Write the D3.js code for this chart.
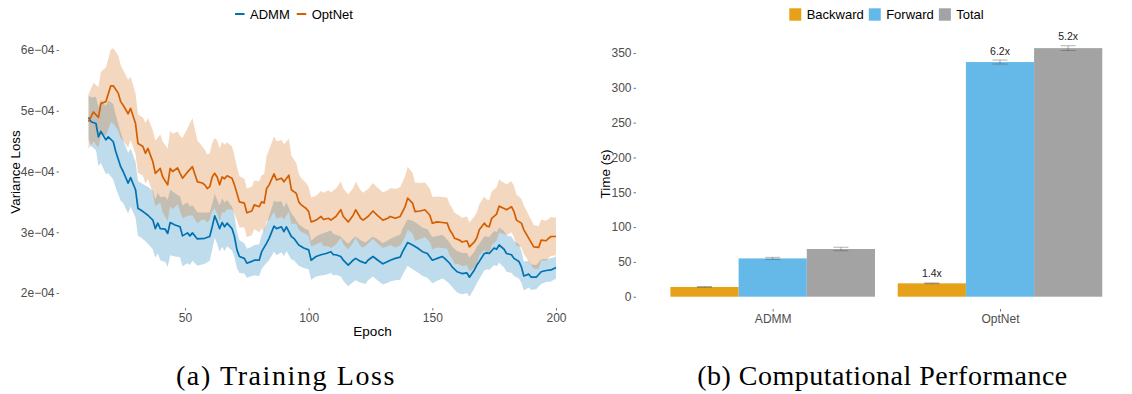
<!DOCTYPE html>
<html lang="en">
  <head>
    <meta charset="utf-8">
    <title>Training loss and computational performance</title>
    <script src="https://d3js.org/d3.v7.min.js"></script>
    <style>
      body { margin: 0; background: #fff; }
    </style>
  </head>
  <body>
    <script>

  // ---- panel (a) data: variance loss, in units of 1e-4 ----
  var admmEpoch = [11,12,14,15,16,18,19,21,22,24,25,27,28,30,31,32,34,35,37,38,39,40,42,43,44,46,48,49,51,52,53,55,58,60,61,62,63,64,65,66,67,69,70,71,72,74,75,77,78,80,81,83,84,86,87,89,90,91,93,94,96,98,100,101,103,105,107,109,110,111,113,114,116,118,119,121,123,124,126,128,130,132,133,135,137,138,140,142,144,146,148,150,152,154,155,157,158,160,162,164,165,167,168,169,171,172,173,175,176,177,179,180,182,183,185,186,187,189,190,192,194,196,198,200];
  var admmMean = [4.89,4.82,4.79,4.57,4.66,4.52,4.57,4.49,4.33,4.08,4.00,3.81,3.90,3.70,3.39,3.37,3.31,3.28,3.20,3.06,3.15,3.06,3.05,2.98,3.16,3.12,3.09,2.94,2.99,2.94,2.99,2.89,2.90,2.93,3.09,3.27,3.17,3.06,3.16,3.09,3.15,3.06,2.93,2.71,2.60,2.57,2.49,2.52,2.54,2.54,2.68,2.82,2.90,3.10,3.06,3.09,3.01,3.09,2.93,2.90,2.79,2.74,2.71,2.54,2.60,2.63,2.65,2.68,2.63,2.63,2.60,2.54,2.46,2.54,2.57,2.52,2.49,2.54,2.60,2.54,2.48,2.52,2.54,2.57,2.59,2.68,2.83,2.79,2.74,2.68,2.65,2.54,2.57,2.60,2.57,2.49,2.43,2.35,2.32,2.33,2.26,2.38,2.46,2.52,2.65,2.66,2.65,2.74,2.72,2.79,2.72,2.65,2.63,2.57,2.52,2.43,2.28,2.31,2.26,2.26,2.35,2.37,2.38,2.42];
  var admmSd = [0.36,0.40,0.44,0.48,0.52,0.56,0.60,0.62,0.60,0.56,0.52,0.50,0.48,0.46,0.45,0.45,0.46,0.47,0.48,0.48,0.50,0.52,0.54,0.55,0.54,0.52,0.50,0.50,0.50,0.48,0.46,0.44,0.42,0.40,0.38,0.36,0.36,0.38,0.40,0.40,0.38,0.36,0.34,0.30,0.27,0.25,0.24,0.24,0.25,0.26,0.28,0.32,0.36,0.42,0.44,0.42,0.40,0.40,0.38,0.36,0.34,0.33,0.32,0.32,0.33,0.34,0.35,0.35,0.34,0.33,0.33,0.34,0.35,0.36,0.36,0.35,0.34,0.33,0.33,0.34,0.34,0.35,0.35,0.36,0.37,0.38,0.38,0.40,0.40,0.40,0.40,0.38,0.37,0.36,0.35,0.34,0.33,0.34,0.34,0.33,0.32,0.30,0.30,0.29,0.28,0.27,0.27,0.28,0.28,0.29,0.30,0.30,0.30,0.29,0.28,0.26,0.24,0.22,0.21,0.20,0.20,0.19,0.19,0.18];

  var optEpoch = [11,13,15,16,18,20,21,23,24,25,27,28,30,31,33,34,35,37,38,40,41,43,44,45,47,48,49,51,53,55,57,58,59,60,61,62,63,64,65,66,67,69,70,71,72,74,75,77,78,80,81,82,83,84,86,87,89,90,92,93,95,96,97,99,100,101,103,105,106,108,109,111,113,114,116,118,119,121,122,124,126,128,130,132,133,135,137,139,140,142,143,145,147,149,150,152,154,156,157,158,159,161,162,164,165,167,168,169,171,172,173,174,176,177,179,180,182,183,184,186,187,189,191,193,194,196,197,198,200];
  var optMean = [4.82,4.98,4.89,5.12,5.15,5.41,5.41,5.29,5.15,5.09,4.95,5.04,4.79,4.46,4.41,4.30,4.38,4.16,3.97,4.05,3.91,3.78,4.05,4.00,4.06,3.97,3.89,3.99,4.08,3.83,3.81,3.78,3.72,3.75,3.91,3.97,3.91,3.78,3.91,3.88,3.93,3.89,3.78,3.64,3.50,3.48,3.32,3.35,3.45,3.42,3.50,3.48,3.72,3.78,3.96,3.86,3.89,3.83,3.94,3.70,3.64,3.50,3.45,3.39,3.34,3.17,3.20,3.26,3.21,3.23,3.20,3.26,3.37,3.26,3.17,3.28,3.37,3.23,3.20,3.26,3.35,3.27,3.20,3.23,3.26,3.23,3.26,3.42,3.56,3.48,3.34,3.35,3.37,3.28,3.15,3.17,3.16,3.15,3.04,2.98,2.90,2.87,2.84,2.86,2.76,2.84,2.91,3.04,3.15,3.10,3.09,3.23,3.30,3.43,3.39,3.37,3.42,3.34,3.20,3.15,3.04,2.90,2.76,2.75,2.87,2.86,2.90,2.93,2.93];
  var optSd = [0.45,0.48,0.50,0.52,0.56,0.60,0.62,0.62,0.60,0.58,0.56,0.52,0.50,0.48,0.48,0.50,0.50,0.52,0.54,0.56,0.58,0.60,0.62,0.62,0.60,0.62,0.66,0.72,0.80,0.68,0.60,0.58,0.56,0.55,0.56,0.58,0.60,0.60,0.58,0.56,0.55,0.52,0.48,0.44,0.42,0.40,0.40,0.40,0.40,0.42,0.44,0.48,0.54,0.58,0.62,0.64,0.63,0.62,0.60,0.56,0.50,0.46,0.44,0.42,0.40,0.40,0.40,0.42,0.44,0.46,0.46,0.46,0.46,0.46,0.45,0.45,0.46,0.46,0.45,0.45,0.46,0.46,0.46,0.46,0.47,0.48,0.48,0.50,0.52,0.50,0.48,0.46,0.45,0.44,0.43,0.42,0.42,0.42,0.42,0.42,0.42,0.40,0.40,0.40,0.40,0.42,0.42,0.42,0.44,0.44,0.44,0.44,0.44,0.44,0.42,0.42,0.42,0.42,0.42,0.40,0.40,0.38,0.36,0.35,0.34,0.33,0.32,0.32,0.31];

  var lossTicksX = [50, 100, 150, 200];
  var lossTicksY = [2, 3, 4, 5, 6];
  var lossTickLabels = ["2e\u221204", "3e\u221204", "4e\u221204", "5e\u221204", "6e\u221204"];
  var lossSeries = ["ADMM", "OptNet"];

  // ---- panel (b) data: time in seconds ----
  var methods = ["ADMM", "OptNet"];
  var phases = ["Backward", "Forward", "Total"];
  var timeMean = { ADMM: [14, 55, 68.5], OptNet: [19.2, 337, 357] };
  var timeErr = { ADMM: [0.5, 1.5, 2.5], OptNet: [0.6, 2.9, 3.4] };
  var speedup = { OptNet: ["1.4x", "6.2x", "5.2x"] };
  var timeTicks = [0, 50, 100, 150, 200, 250, 300, 350];

  var captions = ["(a) Training Loss", "(b) Computational Performance"];

  var lineColors = { ADMM: "#0072B2", OptNet: "#D55E00" };
  var barColors = d3.scaleOrdinal().domain(phases).range(["#E6A118", "#64B9E8", "#A3A3A3"]);

  var svg = d3.select("body").append("svg")
    .attr("width", 1132)
    .attr("height", 394)
    .attr("font-family", "Liberation Sans, Arial, sans-serif");

  // ================= panel (a) =================
  var xLoss = d3.scaleLinear().domain([50, 200]).range([185, 556]);
  var yLoss = d3.scaleLinear().domain([2, 6]).range([293, 50]);

  var lossData = {
    ADMM: admmEpoch.map((e, i) => ({ e: e, m: admmMean[i], s: admmSd[i] })),
    OptNet: optEpoch.map((e, i) => ({ e: e, m: optMean[i], s: optSd[i] }))
  };

  var ribbon = d3.area()
    .x(d => xLoss(d.e))
    .y0(d => yLoss(d.m - d.s))
    .y1(d => yLoss(d.m + d.s));

  var line = d3.line()
    .x(d => xLoss(d.e))
    .y(d => yLoss(d.m));

  var pa = svg.append("g");

  lossSeries.forEach(function (k) {
    pa.append("path")
      .attr("d", ribbon(lossData[k]))
      .attr("fill", lineColors[k])
      .attr("fill-opacity", 0.25);
  });
  lossSeries.forEach(function (k) {
    pa.append("path")
      .attr("d", line(lossData[k]))
      .attr("fill", "none")
      .attr("stroke", lineColors[k])
      .attr("stroke-width", 1.7)
      .attr("stroke-linejoin", "round");
  });

  // axes, ggplot-like: no axis line, tiny ticks, grey labels
  var xAxisA = d3.axisBottom(xLoss).tickValues(lossTicksX).tickSize(2.5).tickPadding(3);
  var gxa = pa.append("g").attr("transform", "translate(0,308)").call(xAxisA);
  var yAxisA = d3.axisLeft(yLoss).tickValues(lossTicksY).tickSize(2.5).tickPadding(2)
    .tickFormat((d, i) => lossTickLabels[i]);
  var gya = pa.append("g").attr("transform", "translate(59,0)").call(yAxisA);

  // ================= panel (b) =================
  var xCat = d3.scalePoint().domain(methods).range([772.7, 1000]);
  var groupW = 0.9 * (xCat(methods[1]) - xCat(methods[0]));
  var xPhase = d3.scaleBand().domain(phases).range([-groupW / 2, groupW / 2]);
  var yTime = d3.scaleLinear().domain([0, 350]).range([296.7, 53]);

  var pb = svg.append("g");

  var groups = pb.selectAll("g.method")
    .data(methods)
    .enter().append("g")
    .attr("class", "method")
    .attr("transform", d => "translate(" + xCat(d) + ",0)");

  groups.each(function (m) {
    var g = d3.select(this);
    var rows = phases.map((p, i) => ({ p: p, v: timeMean[m][i], e: timeErr[m][i], lab: speedup[m] ? speedup[m][i] : null }));

    g.selectAll("rect")
      .data(rows)
      .enter().append("rect")
      .attr("x", d => xPhase(d.p))
      .attr("width", xPhase.bandwidth())
      .attr("y", d => yTime(d.v))
      .attr("height", d => yTime(0) - yTime(d.v))
      .attr("fill", d => barColors(d.p));

    var cap = xPhase.bandwidth() * 0.22;
    var eb = g.selectAll("g.err")
      .data(rows)
      .enter().append("g")
      .attr("class", "err")
      .attr("stroke", "#555")
      .attr("stroke-opacity", 0.45)
      .attr("stroke-width", 1);
    eb.append("line")
      .attr("x1", d => xPhase(d.p) + xPhase.bandwidth() / 2)
      .attr("x2", d => xPhase(d.p) + xPhase.bandwidth() / 2)
      .attr("y1", d => yTime(d.v - d.e))
      .attr("y2", d => yTime(d.v + d.e));
    [-1, 1].forEach(function (sgn) {
      eb.append("line")
        .attr("x1", d => xPhase(d.p) + xPhase.bandwidth() / 2 - cap / 2)
        .attr("x2", d => xPhase(d.p) + xPhase.bandwidth() / 2 + cap / 2)
        .attr("y1", d => yTime(d.v + sgn * d.e))
        .attr("y2", d => yTime(d.v + sgn * d.e));
    });

    g.selectAll("text.lab")
      .data(rows.filter(d => d.lab))
      .enter().append("text")
      .attr("class", "lab")
      .attr("x", d => xPhase(d.p) + xPhase.bandwidth() / 2)
      .attr("y", d => yTime(d.v + d.e) - 5.5)
      .attr("text-anchor", "middle")
      .attr("font-size", 10.5)
      .attr("fill", "#222")
      .text(d => d.lab);
  });

  var xAxisB = d3.axisBottom(xCat).tickSize(2.5).tickPadding(3);
  var gxb = pb.append("g").attr("transform", "translate(0,309)").call(xAxisB);
  var yAxisB = d3.axisLeft(yTime).tickValues(timeTicks).tickSize(2.5).tickPadding(2);
  var gyb = pb.append("g").attr("transform", "translate(636,0)").call(yAxisB);

  [gxa, gya, gxb, gyb].forEach(function (g) {
    g.attr("font-family", null);
    g.select(".domain").remove();
    g.selectAll(".tick line").attr("stroke", "#777");
    g.selectAll(".tick text")
      .attr("fill", "#4D4D4D")
      .attr("font-size", 12);
  });

  // axis titles
  svg.append("text")
    .attr("transform", "translate(20,172) rotate(-90)")
    .attr("text-anchor", "middle")
    .attr("font-size", 13.3)
    .text("Variance Loss");
  svg.append("text")
    .attr("x", xLoss(d3.mean(xLoss.domain())) + 2)
    .attr("y", 336)
    .attr("text-anchor", "middle")
    .attr("font-size", 13.5)
    .text("Epoch");
  svg.append("text")
    .attr("transform", "translate(609.5,174) rotate(-90)")
    .attr("text-anchor", "middle")
    .attr("font-size", 13.5)
    .text("Time (s)");

  // legend (a)
  var legA = svg.append("g").attr("transform", "translate(235,14)");
  var lx = 0;
  lossSeries.forEach(function (k) {
    legA.append("line")
      .attr("x1", lx).attr("x2", lx + 9.5)
      .attr("y1", 0).attr("y2", 0)
      .attr("stroke", lineColors[k])
      .attr("stroke-width", 2);
    var t = legA.append("text")
      .attr("x", lx + 15)
      .attr("y", 4.6)
      .attr("font-size", 13)
      .text(k);
    lx += 15 + t.node().getComputedTextLength() + 7;
  });

  // legend (b)
  var legB = svg.append("g").attr("transform", "translate(789.3,8.3)");
  var bx = 0;
  phases.forEach(function (p) {
    legB.append("rect")
      .attr("x", bx).attr("y", 0)
      .attr("width", 12).attr("height", 12.4)
      .attr("fill", barColors(p));
    var t = legB.append("text")
      .attr("x", bx + 17.4)
      .attr("y", 10.8)
      .attr("font-size", 13)
      .text(p);
    bx += 17.4 + t.node().getComputedTextLength() + 5;
  });

  // captions (serif, like the LaTeX subfigure captions)
  svg.selectAll("text.caption")
    .data(captions)
    .enter().append("text")
    .attr("class", "caption")
    .attr("x", (d, i) => [286, 882.5][i])
    .attr("y", 385)
    .attr("text-anchor", "middle")
    .attr("font-family", "Liberation Serif, serif")
    .attr("font-size", 28)
    .attr("letter-spacing", (d, i) => [1.6, 0.5][i])
    .text(d => d);

    </script>
  </body>
</html>
